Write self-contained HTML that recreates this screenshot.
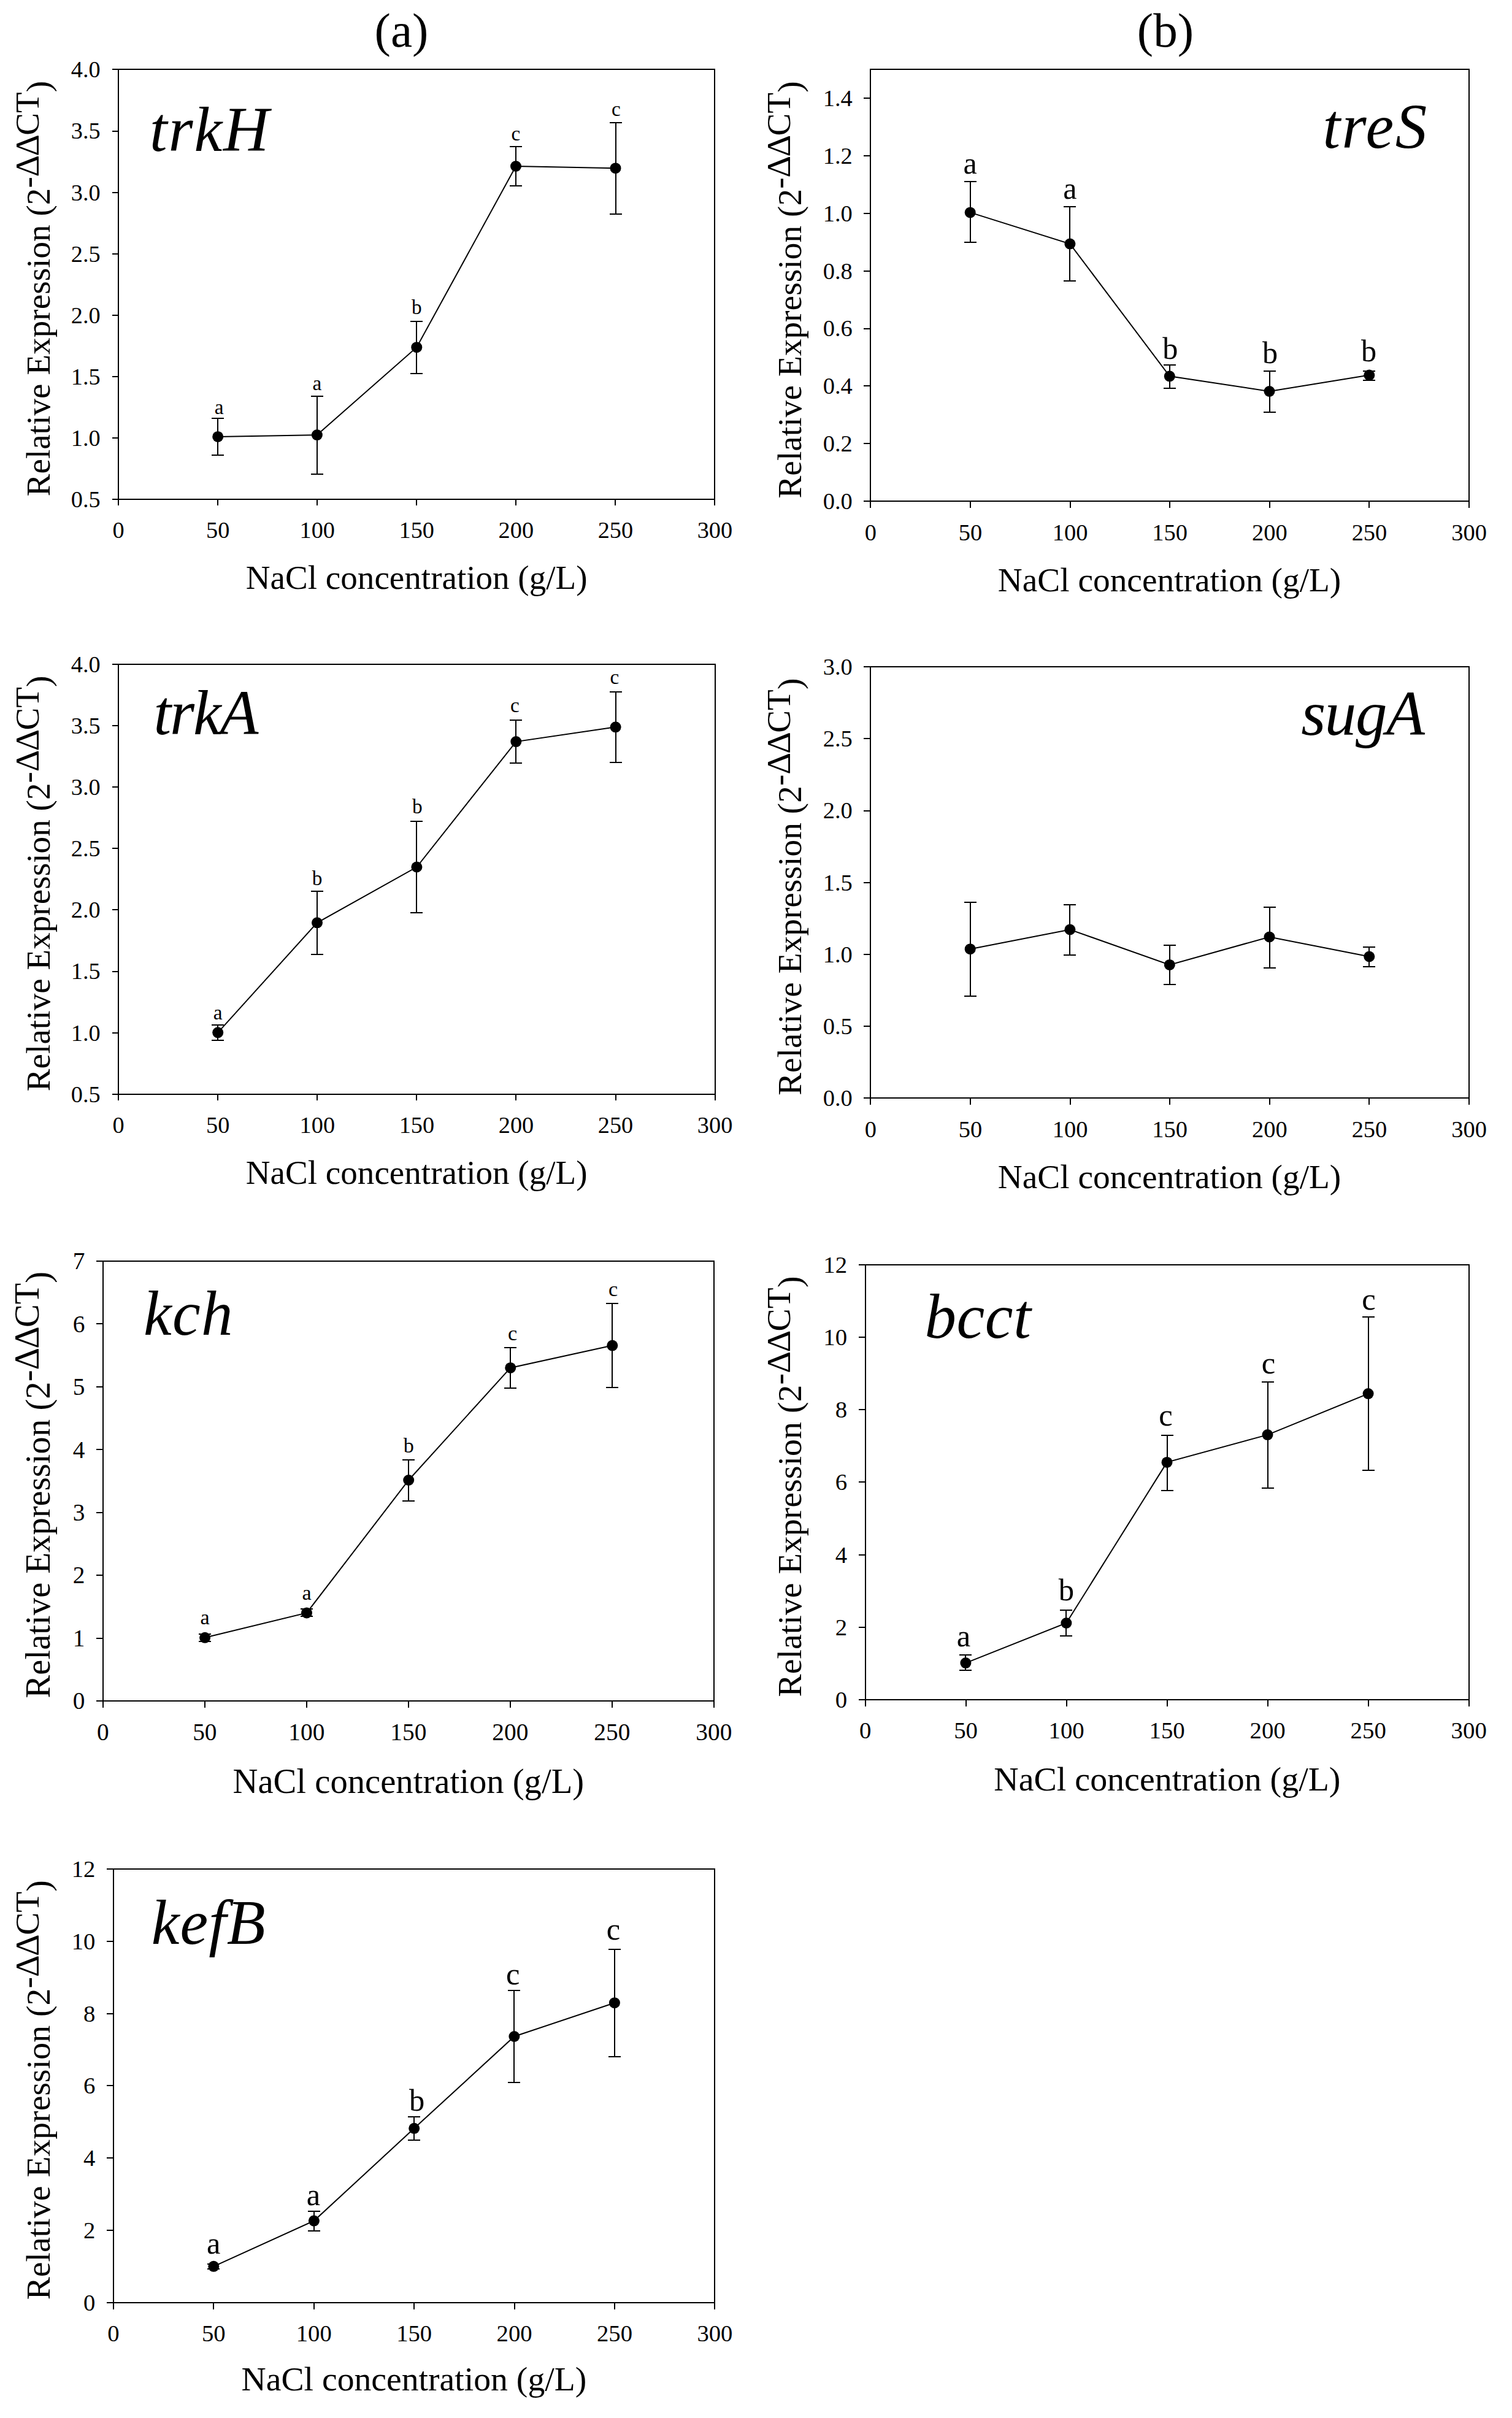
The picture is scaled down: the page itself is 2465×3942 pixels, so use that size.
<!DOCTYPE html>
<html lang="en"><head><meta charset="utf-8"><title>Relative expression vs NaCl concentration</title>
<style>html,body{margin:0;padding:0;background:#fff}svg{display:block}</style></head>
<body>
<svg width="2465" height="3942" viewBox="0 0 2465 3942" font-family='"Liberation Serif", serif' fill="#000">
<rect width="2465" height="3942" fill="#fff"/>
<text x="654.5" y="75.5" font-size="79.2" text-anchor="middle">(a)</text>
<text x="1900" y="75.5" font-size="79.2" text-anchor="middle">(b)</text>
<g id="trkH">
<rect x="193.2" y="113" width="972.2" height="700.8" fill="none" stroke="#000" stroke-width="2" shape-rendering="crispEdges"/>
<path d="M183 813.8H193.2M183 713.8H193.2M183 613.7H193.2M183 513.7H193.2M183 413.6H193.2M183 313.6H193.2M183 213.5H193.2M183 113H193.2M193.2 813.8V824M355.23 813.8V824M517.27 813.8V824M679.3 813.8V824M841.33 813.8V824M1003.37 813.8V824M1165.4 813.8V824" stroke="#000" stroke-width="2" fill="none" shape-rendering="crispEdges"/>
<g font-size="38.3">
<text x="163.7" y="826.7" text-anchor="end">0.5</text>
<text x="163.7" y="726.7" text-anchor="end">1.0</text>
<text x="163.7" y="626.6" text-anchor="end">1.5</text>
<text x="163.7" y="526.6" text-anchor="end">2.0</text>
<text x="163.7" y="426.5" text-anchor="end">2.5</text>
<text x="163.7" y="326.5" text-anchor="end">3.0</text>
<text x="163.7" y="226.4" text-anchor="end">3.5</text>
<text x="163.7" y="125.9" text-anchor="end">4.0</text>
<text x="193.2" y="877.2" text-anchor="middle">0</text>
<text x="355.23" y="877.2" text-anchor="middle">50</text>
<text x="517.27" y="877.2" text-anchor="middle">100</text>
<text x="679.3" y="877.2" text-anchor="middle">150</text>
<text x="841.33" y="877.2" text-anchor="middle">200</text>
<text x="1003.37" y="877.2" text-anchor="middle">250</text>
<text x="1165.4" y="877.2" text-anchor="middle">300</text>
</g>
<text x="679.2" y="959.9" font-size="55.08" text-anchor="middle">NaCl concentration (g/L)</text>
<text transform="translate(81.3 809.3) rotate(-90)" font-size="55" letter-spacing="0.08">Relative Expression (2<tspan dy="-18" dx="0 0 -1.7 -1.7">-ΔΔCT</tspan><tspan dy="18">)</tspan></text>
<text x="244" y="246" font-size="103" font-style="italic" letter-spacing="1.9">trkH</text>
<polyline points="355.2,711.9 516.9,709.1 679.3,566.2 841,271 1003.5,274.2" fill="none" stroke="#000" stroke-width="2"/>
<path d="M355.2 681.7V741.7M345.2 681.7h20M345.2 741.7h20M516.9 646V773.4M506.9 646h20M506.9 773.4h20M679.3 524V608.7M669.3 524h20M669.3 608.7h20M841 238.9V302.8M831 238.9h20M831 302.8h20M1003.5 200V348.8M993.5 200h20M993.5 348.8h20" stroke="#000" stroke-width="2" fill="none" shape-rendering="crispEdges"/>
<circle cx="355.2" cy="711.9" r="9"/>
<circle cx="516.9" cy="709.1" r="9"/>
<circle cx="679.3" cy="566.2" r="9"/>
<circle cx="841" cy="271" r="9"/>
<circle cx="1003.5" cy="274.2" r="9"/>
<g font-size="33.33" text-anchor="middle">
<text x="357.2" y="674.6">a</text>
<text x="516.9" y="636.1">a</text>
<text x="679.3" y="511.5">b</text>
<text x="841" y="229">c</text>
<text x="1004.4" y="189.3">c</text>
</g>
</g>
<g id="treS">
<rect x="1419.3" y="113" width="975.8" height="704.1" fill="none" stroke="#000" stroke-width="2" shape-rendering="crispEdges"/>
<path d="M1408.3 817.1H1419.3M1408.3 723.2H1419.3M1408.3 629.3H1419.3M1408.3 535.5H1419.3M1408.3 441.6H1419.3M1408.3 347.7H1419.3M1408.3 253.8H1419.3M1408.3 159.9H1419.3M1419.3 817.1V828.1M1581.93 817.1V828.1M1744.57 817.1V828.1M1907.2 817.1V828.1M2069.83 817.1V828.1M2232.47 817.1V828.1M2395.1 817.1V828.1" stroke="#000" stroke-width="2" fill="none" shape-rendering="crispEdges"/>
<g font-size="38.45">
<text x="1389.8" y="830.05" text-anchor="end">0.0</text>
<text x="1389.8" y="736.15" text-anchor="end">0.2</text>
<text x="1389.8" y="642.25" text-anchor="end">0.4</text>
<text x="1389.8" y="548.45" text-anchor="end">0.6</text>
<text x="1389.8" y="454.55" text-anchor="end">0.8</text>
<text x="1389.8" y="360.65" text-anchor="end">1.0</text>
<text x="1389.8" y="266.75" text-anchor="end">1.2</text>
<text x="1389.8" y="172.85" text-anchor="end">1.4</text>
<text x="1419.3" y="881.2" text-anchor="middle">0</text>
<text x="1581.93" y="881.2" text-anchor="middle">50</text>
<text x="1744.57" y="881.2" text-anchor="middle">100</text>
<text x="1907.2" y="881.2" text-anchor="middle">150</text>
<text x="2069.83" y="881.2" text-anchor="middle">200</text>
<text x="2232.47" y="881.2" text-anchor="middle">250</text>
<text x="2395.1" y="881.2" text-anchor="middle">300</text>
</g>
<text x="1906.5" y="963.7" font-size="55.36" text-anchor="middle">NaCl concentration (g/L)</text>
<text transform="translate(1306 812.6) rotate(-90)" font-size="55.22" letter-spacing="0.08">Relative Expression (2<tspan dy="-18.07" dx="0 0 -1.7 -1.7">-ΔΔCT</tspan><tspan dy="18.07">)</tspan></text>
<text x="2156.4" y="241.4" font-size="103" font-style="italic" letter-spacing="2.57">treS</text>
<polyline points="1581.7,346.4 1744.4,397.6 1906.8,613.3 2069.5,638 2232.3,611.6" fill="none" stroke="#000" stroke-width="2"/>
<path d="M1581.7 296V395.2M1571.7 296h20M1571.7 395.2h20M1744.4 336.9V457.9M1734.4 336.9h20M1734.4 457.9h20M1906.8 595.3V632.5M1896.8 595.3h20M1896.8 632.5h20M2069.5 604.5V671.5M2059.5 604.5h20M2059.5 671.5h20M2232.3 604.9V619.6M2222.3 604.9h20M2222.3 619.6h20" stroke="#000" stroke-width="2" fill="none" shape-rendering="crispEdges"/>
<circle cx="1581.7" cy="346.4" r="9"/>
<circle cx="1744.4" cy="397.6" r="9"/>
<circle cx="1906.8" cy="613.3" r="9"/>
<circle cx="2069.5" cy="638" r="9"/>
<circle cx="2232.3" cy="611.6" r="9"/>
<g font-size="50.2" text-anchor="middle">
<text x="1581.7" y="283">a</text>
<text x="1744.4" y="323.9">a</text>
<text x="1907.8" y="585.3">b</text>
<text x="2070.5" y="592">b</text>
<text x="2231.6" y="589.1">b</text>
</g>
</g>
<g id="trkA">
<rect x="193.2" y="1082.9" width="972.4" height="700.8" fill="none" stroke="#000" stroke-width="2" shape-rendering="crispEdges"/>
<path d="M183 1783.7H193.2M183 1683.6H193.2M183 1583.5H193.2M183 1483.4H193.2M183 1383.3H193.2M183 1283.1H193.2M183 1183H193.2M183 1082.9H193.2M193.2 1783.7V1793.9M355.27 1783.7V1793.9M517.33 1783.7V1793.9M679.4 1783.7V1793.9M841.47 1783.7V1793.9M1003.53 1783.7V1793.9M1165.6 1783.7V1793.9" stroke="#000" stroke-width="2" fill="none" shape-rendering="crispEdges"/>
<g font-size="38.3">
<text x="163.7" y="1796.6" text-anchor="end">0.5</text>
<text x="163.7" y="1696.5" text-anchor="end">1.0</text>
<text x="163.7" y="1596.4" text-anchor="end">1.5</text>
<text x="163.7" y="1496.3" text-anchor="end">2.0</text>
<text x="163.7" y="1396.2" text-anchor="end">2.5</text>
<text x="163.7" y="1296" text-anchor="end">3.0</text>
<text x="163.7" y="1195.9" text-anchor="end">3.5</text>
<text x="163.7" y="1095.8" text-anchor="end">4.0</text>
<text x="193.2" y="1847" text-anchor="middle">0</text>
<text x="355.27" y="1847" text-anchor="middle">50</text>
<text x="517.33" y="1847" text-anchor="middle">100</text>
<text x="679.4" y="1847" text-anchor="middle">150</text>
<text x="841.47" y="1847" text-anchor="middle">200</text>
<text x="1003.53" y="1847" text-anchor="middle">250</text>
<text x="1165.6" y="1847" text-anchor="middle">300</text>
</g>
<text x="679.2" y="1929.9" font-size="55.08" text-anchor="middle">NaCl concentration (g/L)</text>
<text transform="translate(81.3 1779.2) rotate(-90)" font-size="55" letter-spacing="0.08">Relative Expression (2<tspan dy="-18" dx="0 0 -1.7 -1.7">-ΔΔCT</tspan><tspan dy="18">)</tspan></text>
<text x="250.4" y="1197" font-size="103" font-style="italic" letter-spacing="-2.1">trkA</text>
<polyline points="355.2,1683.3 517,1504.3 679.4,1413.5 841.3,1209.1 1003.6,1185.3" fill="none" stroke="#000" stroke-width="2"/>
<path d="M355.2 1670.6V1695.6M345.2 1670.6h20M345.2 1695.6h20M517 1453V1555.6M507 1453h20M507 1555.6h20M679.4 1338.9V1487.7M669.4 1338.9h20M669.4 1487.7h20M841.3 1174.2V1243.7M831.3 1174.2h20M831.3 1243.7h20M1003.6 1128.2V1242.5M993.6 1128.2h20M993.6 1242.5h20" stroke="#000" stroke-width="2" fill="none" shape-rendering="crispEdges"/>
<circle cx="355.2" cy="1683.3" r="9"/>
<circle cx="517" cy="1504.3" r="9"/>
<circle cx="679.4" cy="1413.5" r="9"/>
<circle cx="841.3" cy="1209.1" r="9"/>
<circle cx="1003.6" cy="1185.3" r="9"/>
<g font-size="33.33" text-anchor="middle">
<text x="355.2" y="1662">a</text>
<text x="517" y="1442.5">b</text>
<text x="680.4" y="1326.3">b</text>
<text x="839.5" y="1160.8">c</text>
<text x="1001.8" y="1115.2">c</text>
</g>
</g>
<g id="sugA">
<rect x="1419.3" y="1087.1" width="975.8" height="703.2" fill="none" stroke="#000" stroke-width="2" shape-rendering="crispEdges"/>
<path d="M1408.3 1790.3H1419.3M1408.3 1673.1H1419.3M1408.3 1555.9H1419.3M1408.3 1438.7H1419.3M1408.3 1321.5H1419.3M1408.3 1204.3H1419.3M1408.3 1087.1H1419.3M1419.3 1790.3V1801.3M1581.93 1790.3V1801.3M1744.57 1790.3V1801.3M1907.2 1790.3V1801.3M2069.83 1790.3V1801.3M2232.47 1790.3V1801.3M2395.1 1790.3V1801.3" stroke="#000" stroke-width="2" fill="none" shape-rendering="crispEdges"/>
<g font-size="38.45">
<text x="1389.8" y="1803.25" text-anchor="end">0.0</text>
<text x="1389.8" y="1686.05" text-anchor="end">0.5</text>
<text x="1389.8" y="1568.85" text-anchor="end">1.0</text>
<text x="1389.8" y="1451.65" text-anchor="end">1.5</text>
<text x="1389.8" y="1334.45" text-anchor="end">2.0</text>
<text x="1389.8" y="1217.25" text-anchor="end">2.5</text>
<text x="1389.8" y="1100.05" text-anchor="end">3.0</text>
<text x="1419.3" y="1854.2" text-anchor="middle">0</text>
<text x="1581.93" y="1854.2" text-anchor="middle">50</text>
<text x="1744.57" y="1854.2" text-anchor="middle">100</text>
<text x="1907.2" y="1854.2" text-anchor="middle">150</text>
<text x="2069.83" y="1854.2" text-anchor="middle">200</text>
<text x="2232.47" y="1854.2" text-anchor="middle">250</text>
<text x="2395.1" y="1854.2" text-anchor="middle">300</text>
</g>
<text x="1906.5" y="1937.2" font-size="55.36" text-anchor="middle">NaCl concentration (g/L)</text>
<text transform="translate(1306 1785.8) rotate(-90)" font-size="55.22" letter-spacing="0.08">Relative Expression (2<tspan dy="-18.07" dx="0 0 -1.7 -1.7">-ΔΔCT</tspan><tspan dy="18.07">)</tspan></text>
<text x="2121.2" y="1197.8" font-size="103" font-style="italic" letter-spacing="-1.4">sugA</text>
<polyline points="1581.7,1547.2 1744.4,1515.5 1906.8,1572.9 2069.5,1527.5 2232.3,1559.5" fill="none" stroke="#000" stroke-width="2"/>
<path d="M1581.7 1470.6V1624.2M1571.7 1470.6h20M1571.7 1624.2h20M1744.4 1475V1556.7M1734.4 1475h20M1734.4 1556.7h20M1906.8 1540.7V1605.1M1896.8 1540.7h20M1896.8 1605.1h20M2069.5 1478.7V1577.9M2059.5 1478.7h20M2059.5 1577.9h20M2232.3 1544V1575.8M2222.3 1544h20M2222.3 1575.8h20" stroke="#000" stroke-width="2" fill="none" shape-rendering="crispEdges"/>
<circle cx="1581.7" cy="1547.2" r="9"/>
<circle cx="1744.4" cy="1515.5" r="9"/>
<circle cx="1906.8" cy="1572.9" r="9"/>
<circle cx="2069.5" cy="1527.5" r="9"/>
<circle cx="2232.3" cy="1559.5" r="9"/>
</g>
<g id="kch">
<rect x="167.9" y="2056" width="995.9" height="717" fill="none" stroke="#000" stroke-width="2" shape-rendering="crispEdges"/>
<path d="M156.9 2773H167.9M156.9 2670.57H167.9M156.9 2568.14H167.9M156.9 2465.71H167.9M156.9 2363.28H167.9M156.9 2260.85H167.9M156.9 2158.42H167.9M156.9 2055.99H167.9M167.9 2773V2784M333.88 2773V2784M499.87 2773V2784M665.85 2773V2784M831.83 2773V2784M997.82 2773V2784M1163.8 2773V2784" stroke="#000" stroke-width="2" fill="none" shape-rendering="crispEdges"/>
<g font-size="39.33">
<text x="138.4" y="2786.25" text-anchor="end">0</text>
<text x="138.4" y="2683.82" text-anchor="end">1</text>
<text x="138.4" y="2581.39" text-anchor="end">2</text>
<text x="138.4" y="2478.96" text-anchor="end">3</text>
<text x="138.4" y="2376.53" text-anchor="end">4</text>
<text x="138.4" y="2274.1" text-anchor="end">5</text>
<text x="138.4" y="2171.67" text-anchor="end">6</text>
<text x="138.4" y="2069.24" text-anchor="end">7</text>
<text x="167.9" y="2837.1" text-anchor="middle">0</text>
<text x="333.88" y="2837.1" text-anchor="middle">50</text>
<text x="499.87" y="2837.1" text-anchor="middle">100</text>
<text x="665.85" y="2837.1" text-anchor="middle">150</text>
<text x="831.83" y="2837.1" text-anchor="middle">200</text>
<text x="997.82" y="2837.1" text-anchor="middle">250</text>
<text x="1163.8" y="2837.1" text-anchor="middle">300</text>
</g>
<text x="665.85" y="2922.6" font-size="56.66" text-anchor="middle">NaCl concentration (g/L)</text>
<text transform="translate(81.3 2768.5) rotate(-90)" font-size="56.48" letter-spacing="0.08">Relative Expression (2<tspan dy="-18.49" dx="0 0 -1.7 -1.7">-ΔΔCT</tspan><tspan dy="18.49">)</tspan></text>
<text x="234.1" y="2176.2" font-size="103" font-style="italic" letter-spacing="1.25">kch</text>
<polyline points="334.1,2669.8 500,2629.4 666.2,2413 832.2,2229.9 998.3,2193.6" fill="none" stroke="#000" stroke-width="2"/>
<path d="M334.1 2664.3V2675.8M324.1 2664.3h20M324.1 2675.8h20M500 2623.4V2635.3M490 2623.4h20M490 2635.3h20M666.2 2380V2446.9M656.2 2380h20M656.2 2446.9h20M832.2 2196.9V2263M822.2 2196.9h20M822.2 2263h20M998.3 2125.4V2261.7M988.3 2125.4h20M988.3 2261.7h20" stroke="#000" stroke-width="2" fill="none" shape-rendering="crispEdges"/>
<circle cx="334.1" cy="2669.8" r="9"/>
<circle cx="500" cy="2629.4" r="9"/>
<circle cx="666.2" cy="2413" r="9"/>
<circle cx="832.2" cy="2229.9" r="9"/>
<circle cx="998.3" cy="2193.6" r="9"/>
<g font-size="34.23" text-anchor="middle">
<text x="334.1" y="2647.7">a</text>
<text x="500" y="2608">a</text>
<text x="666.2" y="2367.5">b</text>
<text x="835.7" y="2185.3">c</text>
<text x="999.5" y="2112.5">c</text>
</g>
</g>
<g id="bcct">
<rect x="1410.6" y="2061.7" width="984.1" height="709.4" fill="none" stroke="#000" stroke-width="2" shape-rendering="crispEdges"/>
<path d="M1399.6 2771.1H1410.6M1399.6 2652.87H1410.6M1399.6 2534.63H1410.6M1399.6 2416.4H1410.6M1399.6 2298.16H1410.6M1399.6 2179.93H1410.6M1399.6 2061.7H1410.6M1410.6 2771.1V2782.1M1574.62 2771.1V2782.1M1738.63 2771.1V2782.1M1902.65 2771.1V2782.1M2066.67 2771.1V2782.1M2230.68 2771.1V2782.1M2394.7 2771.1V2782.1" stroke="#000" stroke-width="2" fill="none" shape-rendering="crispEdges"/>
<g font-size="38.8">
<text x="1381.1" y="2784.17" text-anchor="end">0</text>
<text x="1381.1" y="2665.93" text-anchor="end">2</text>
<text x="1381.1" y="2547.7" text-anchor="end">4</text>
<text x="1381.1" y="2429.47" text-anchor="end">6</text>
<text x="1381.1" y="2311.23" text-anchor="end">8</text>
<text x="1381.1" y="2193" text-anchor="end">10</text>
<text x="1381.1" y="2074.76" text-anchor="end">12</text>
<text x="1410.6" y="2834" text-anchor="middle">0</text>
<text x="1574.62" y="2834" text-anchor="middle">50</text>
<text x="1738.63" y="2834" text-anchor="middle">100</text>
<text x="1902.65" y="2834" text-anchor="middle">150</text>
<text x="2066.67" y="2834" text-anchor="middle">200</text>
<text x="2230.68" y="2834" text-anchor="middle">250</text>
<text x="2394.7" y="2834" text-anchor="middle">300</text>
</g>
<text x="1902.9" y="2918.7" font-size="55.92" text-anchor="middle">NaCl concentration (g/L)</text>
<text transform="translate(1306 2766.6) rotate(-90)" font-size="55.71" letter-spacing="0.08">Relative Expression (2<tspan dy="-18.23" dx="0 0 -1.7 -1.7">-ΔΔCT</tspan><tspan dy="18.23">)</tspan></text>
<text x="1507.4" y="2181" font-size="103" font-style="italic" letter-spacing="0.63">bcct</text>
<polyline points="1574.4,2711.1 1738.4,2646 1902.5,2383.9 2066.5,2339.1 2230.6,2272.1" fill="none" stroke="#000" stroke-width="2"/>
<path d="M1574.4 2698.4V2723M1564.4 2698.4h20M1564.4 2723h20M1738.4 2624.6V2666.7M1728.4 2624.6h20M1728.4 2666.7h20M1902.5 2339.5V2429.5M1892.5 2339.5h20M1892.5 2429.5h20M2066.5 2252.9V2425.8M2056.5 2252.9h20M2056.5 2425.8h20M2230.6 2146.9V2397.3M2220.6 2146.9h20M2220.6 2397.3h20" stroke="#000" stroke-width="2" fill="none" shape-rendering="crispEdges"/>
<circle cx="1574.4" cy="2711.1" r="9"/>
<circle cx="1738.4" cy="2646" r="9"/>
<circle cx="1902.5" cy="2383.9" r="9"/>
<circle cx="2066.5" cy="2339.1" r="9"/>
<circle cx="2230.6" cy="2272.1" r="9"/>
<g font-size="50.65" text-anchor="middle">
<text x="1571.1" y="2683.8">a</text>
<text x="1738.4" y="2609.2">b</text>
<text x="1900.5" y="2323.7">c</text>
<text x="2067.9" y="2238.7">c</text>
<text x="2231.5" y="2135.3">c</text>
</g>
</g>
<g id="kefB">
<rect x="184.9" y="3046.9" width="980.5" height="706.9" fill="none" stroke="#000" stroke-width="2" shape-rendering="crispEdges"/>
<path d="M173.9 3753.8H184.9M173.9 3635.98H184.9M173.9 3518.16H184.9M173.9 3400.34H184.9M173.9 3282.52H184.9M173.9 3164.7H184.9M173.9 3046.88H184.9M184.9 3753.8V3764.8M348.32 3753.8V3764.8M511.73 3753.8V3764.8M675.15 3753.8V3764.8M838.57 3753.8V3764.8M1001.98 3753.8V3764.8M1165.4 3753.8V3764.8" stroke="#000" stroke-width="2" fill="none" shape-rendering="crispEdges"/>
<g font-size="38.68">
<text x="155.4" y="3766.83" text-anchor="end">0</text>
<text x="155.4" y="3649.01" text-anchor="end">2</text>
<text x="155.4" y="3531.19" text-anchor="end">4</text>
<text x="155.4" y="3413.37" text-anchor="end">6</text>
<text x="155.4" y="3295.55" text-anchor="end">8</text>
<text x="155.4" y="3177.73" text-anchor="end">10</text>
<text x="155.4" y="3059.91" text-anchor="end">12</text>
<text x="184.9" y="3817.4" text-anchor="middle">0</text>
<text x="348.32" y="3817.4" text-anchor="middle">50</text>
<text x="511.73" y="3817.4" text-anchor="middle">100</text>
<text x="675.15" y="3817.4" text-anchor="middle">150</text>
<text x="838.57" y="3817.4" text-anchor="middle">200</text>
<text x="1001.98" y="3817.4" text-anchor="middle">250</text>
<text x="1165.4" y="3817.4" text-anchor="middle">300</text>
</g>
<text x="674.9" y="3897.2" font-size="55.68" text-anchor="middle">NaCl concentration (g/L)</text>
<text transform="translate(81.3 3749.3) rotate(-90)" font-size="55.55" letter-spacing="0.08">Relative Expression (2<tspan dy="-18.18" dx="0 0 -1.7 -1.7">-ΔΔCT</tspan><tspan dy="18.18">)</tspan></text>
<text x="246.8" y="3168.6" font-size="103" font-style="italic" letter-spacing="1">kefB</text>
<polyline points="348.3,3694.8 511.9,3620.6 675.2,3469.8 838.4,3320 1001.9,3265.2" fill="none" stroke="#000" stroke-width="2"/>
<path d="M348.3 3691.3V3698.8M338.3 3691.3h20M338.3 3698.8h20M511.9 3604.8V3637.3M501.9 3604.8h20M501.9 3637.3h20M675.2 3451V3488.6M665.2 3451h20M665.2 3488.6h20M838.4 3245.2V3394.8M828.4 3245.2h20M828.4 3394.8h20M1001.9 3177.8V3352.6M991.9 3177.8h20M991.9 3352.6h20" stroke="#000" stroke-width="2" fill="none" shape-rendering="crispEdges"/>
<circle cx="348.3" cy="3694.8" r="9"/>
<circle cx="511.9" cy="3620.6" r="9"/>
<circle cx="675.2" cy="3469.8" r="9"/>
<circle cx="838.4" cy="3320" r="9"/>
<circle cx="1001.9" cy="3265.2" r="9"/>
<g font-size="50.5" text-anchor="middle">
<text x="348.3" y="3673.5">a</text>
<text x="510.9" y="3594.9">a</text>
<text x="679.7" y="3440.5">b</text>
<text x="836.2" y="3234.8">c</text>
<text x="999.9" y="3161.6">c</text>
</g>
</g>
</svg>
</body></html>
